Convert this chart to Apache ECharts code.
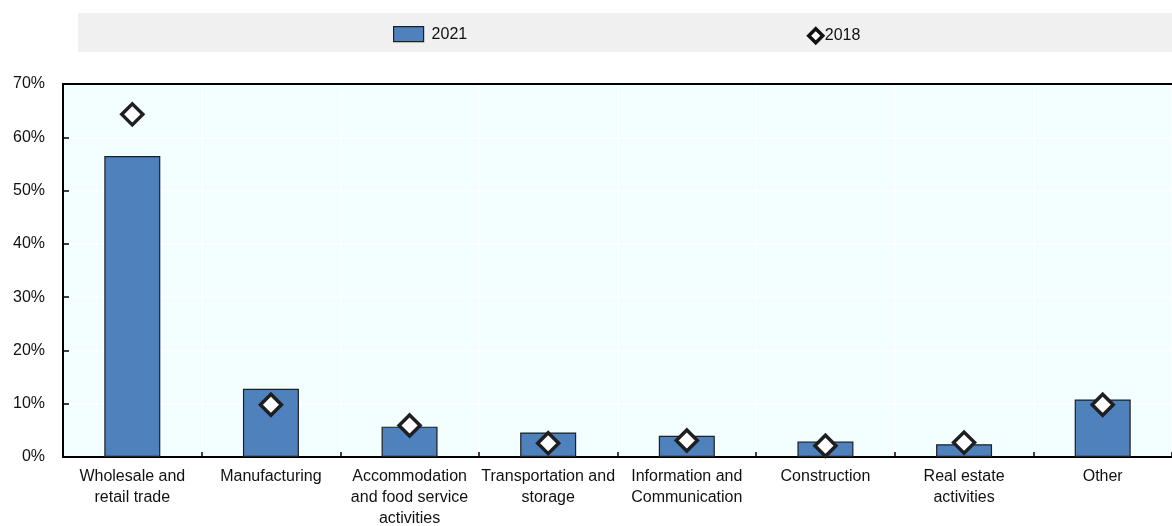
<!DOCTYPE html>
<html>
<head>
<meta charset="utf-8">
<script src="https://cdn.jsdelivr.net/npm/echarts@6/dist/echarts.min.js"></script>
<style>
  html, body { margin: 0; padding: 0; background: #ffffff; }
  #chart { width: 1172px; height: 526px; }
</style>
</head>
<body>
<div id="chart"></div>
<script>
// Sector labels shown on the category axis
const categories = [
  'Wholesale and\nretail trade',
  'Manufacturing',
  'Accommodation\nand food service\nactivities',
  'Transportation and\nstorage',
  'Information and\nCommunication',
  'Construction',
  'Real estate\nactivities',
  'Other'
];

// Share of firms by sector, in percent
const values2021 = [56.5, 12.8, 5.7, 4.6, 4.0, 2.9, 2.4, 10.8];
const values2018 = [64.3, 9.8, 5.9, 2.6, 3.1, 2.1, 2.7, 9.8];

// Value axis range and step
const yMin = 0;
const yMax = 70;
const yStep = 10;

const font = 'Liberation Sans, Arial, sans-serif';
const chart = echarts.init(document.getElementById('chart'));

chart.setOption({
  animation: false,
  backgroundColor: '#ffffff',
  textStyle: { fontFamily: font },
  graphic: [{
    type: 'rect',
    left: 78, top: 13,
    shape: { width: 1094, height: 39 },
    style: { fill: '#f0f0f0' },
    z: -1
  }],
  legend: [{
    data: [{ name: '2021', icon: 'rect' }],
    left: 388, top: 21,
    itemWidth: 30, itemHeight: 15,
    itemGap: 0,
    itemStyle: { color: '#4f81bd', borderColor: '#1f1f1f', borderWidth: 1.2 },
    textStyle: { fontFamily: font, fontSize: 16, color: '#111111', padding: [0, 0, 0, 3] }
  }, {
    data: [{ name: '2018', icon: 'diamond' }],
    left: 802, top: 22,
    itemWidth: 14, itemHeight: 14,
    textStyle: { fontFamily: font, fontSize: 16, color: '#111111', padding: [0, 0, 0, -3] },
    itemStyle: { color: '#ffffff', borderColor: '#111111', borderWidth: 3.5 }
  }],
  grid: {
    left: 63, right: 0, top: 84, bottom: 69,
    outerBoundsMode: 'none',
    containLabel: false,
    show: true,
    backgroundColor: '#f2feff',
    borderWidth: 0
  },
  xAxis: [{
    type: 'category',
    data: categories,
    boundaryGap: true,
    axisLine: { lineStyle: { color: '#000000', width: 2 } },
    axisTick: { show: true, inside: true, length: 5, lineStyle: { color: '#000000', width: 1.5 } },
    axisLabel: {
      interval: 0, fontSize: 16, color: '#111111', lineHeight: 21, margin: 9,
      fontFamily: font
    },
    splitLine: { show: true, lineStyle: { color: '#ffffff', width: 1.5 } }
  }, {
    type: 'category',
    position: 'top',
    data: categories,
    axisLine: { lineStyle: { color: '#000000', width: 2 } },
    axisTick: { show: false },
    axisLabel: { show: false },
    splitLine: { show: false }
  }],
  yAxis: {
    type: 'value',
    min: yMin, max: yMax, interval: yStep,
    axisLine: { show: true, lineStyle: { color: '#000000', width: 2 } },
    axisTick: { show: true, inside: true, length: 6, lineStyle: { color: '#000000', width: 1.5 } },
    axisLabel: {
      formatter: '{value}%', fontSize: 16, color: '#111111', margin: 18,
      fontFamily: font
    },
    splitLine: { show: true, lineStyle: { color: '#ffffff', width: 1.5 } }
  },
  series: [{
    name: '2021',
    type: 'bar',
    data: values2021,
    barWidth: 56,
    itemStyle: { color: '#4f81bd', borderColor: '#1f1f1f', borderWidth: 1.2 },
    z: 2
  }, {
    name: '2018',
    type: 'scatter',
    data: values2018,
    symbol: 'diamond',
    symbolSize: [21, 21],
    itemStyle: { color: '#ffffff', borderColor: '#1f1f1f', borderWidth: 3.5, opacity: 1 },
    z: 3
  }]
});
</script>
</body>
</html>
